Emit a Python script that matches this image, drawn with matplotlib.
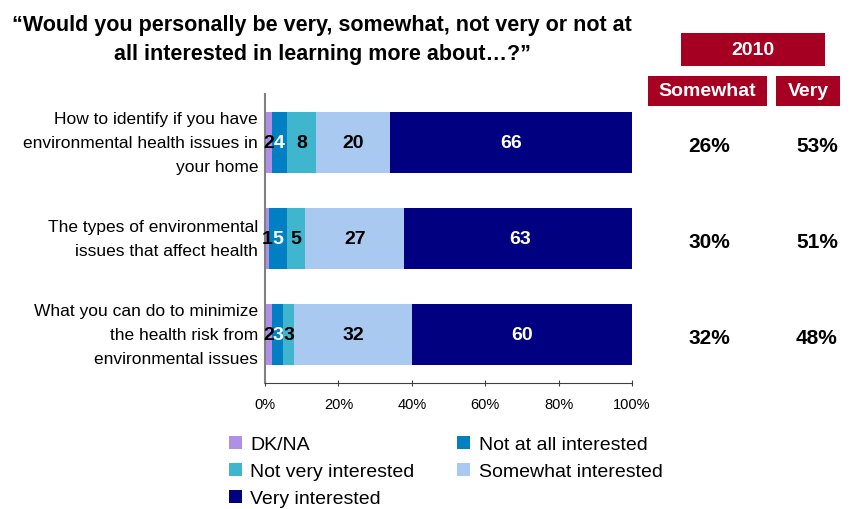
import matplotlib.pyplot as plt
from matplotlib.patches import Rectangle
from matplotlib.transforms import ScaledTranslation
import numpy as np

plt.rcParams['font.family'] = ['Liberation Sans', 'DejaVu Sans']

categories = [
    "How to identify if you have\nenvironmental health issues in\nyour home",
    "The types of environmental\nissues that affect health",
    "What you can do to minimize\nthe health risk from\nenvironmental issues",
]
series_names = ["DK/NA", "Not at all interested", "Not very interested",
                "Somewhat interested", "Very interested"]
dk_na = [2, 1, 2]
not_at_all = [4, 5, 3]
not_very = [8, 5, 3]
somewhat = [20, 27, 32]
very = [66, 63, 60]
colors = ["#B08FE6", "#0080C3", "#40B6CE", "#A9C9F0", "#000080"]
label_colors = ["black", "white", "black", "black", "white"]

somewhat_2010 = ["26%", "30%", "32%"]
very_2010 = ["53%", "51%", "48%"]

W, H = 850, 510
fig = plt.figure(figsize=(W / 100, H / 100), dpi=100)
ax = fig.add_axes([265 / W, 1 - 384 / H, (632 - 265) / W, (384 - 95) / H])

series = [dk_na, not_at_all, not_very, somewhat, very]
y = np.arange(len(categories))
left = np.zeros(len(categories))
for vals, col, lc, name in zip(series, colors, label_colors, series_names):
    vals = np.array(vals, dtype=float)
    bars = ax.barh(y, vals, left=left, height=0.63, color=col, label=name)
    for b, v in zip(bars, vals):
        ax.text(b.get_x() + b.get_width() / 2, b.get_y() + b.get_height() / 2,
                f"{int(v)}", ha="center", va="center", color=lc,
                fontsize=14, fontweight="bold")
    left += vals

ax.set_xlim(0, 100)
ax.set_ylim(2.5, -0.5)
ax.set_xticks([0, 20, 40, 60, 80, 100])
ax.set_xticklabels([f"{t}%" for t in [0, 20, 40, 60, 80, 100]], fontsize=10.5)
ax.set_yticks([])
ax.tick_params(axis="x", length=4, direction="inout", pad=8, color="#404040")
for s in ["top", "right"]:
    ax.spines[s].set_visible(False)
ax.spines["left"].set_color("#808080")
ax.spines["left"].set_linewidth(1.5)
ax.spines["bottom"].set_color("#404040")
ax.spines["bottom"].set_linewidth(0.8)

# Category labels, right-aligned against the axis
shift = ScaledTranslation(-7 / 100, 0, fig.dpi_scale_trans)
for i, cat in enumerate(categories):
    ax.text(0, i, cat, transform=ax.get_yaxis_transform() + shift,
            ha="right", va="center", fontsize=12.5, linespacing=1.75)

# Title, sized to span the width above the chart
title = fig.text(322 / W, 1 - 40 / H,
                 "\u201cWould you personally be very, somewhat, not very or not at\nall interested in learning more about\u2026?\u201d",
                 ha="center", va="center", fontsize=17, fontweight="bold",
                 linespacing=1.5)
renderer = fig.canvas.get_renderer()
for _ in range(3):
    w = title.get_window_extent(renderer).width
    title.set_fontsize(title.get_fontsize() * 622 / w)

# 2010 header boxes
red = "#A50021"
def header(x0, x1, y0, y1, text, size):
    fig.patches.append(Rectangle((x0 / W, 1 - y1 / H), (x1 - x0) / W, (y1 - y0) / H,
                                 transform=fig.transFigure, facecolor=red,
                                 edgecolor="none"))
    fig.text((x0 + x1) / 2 / W, 1 - (y0 + y1) / 2 / H, text, ha="center",
             va="center", color="white", fontsize=size, fontweight="bold")

header(681, 825, 34, 67, "2010", 14)
header(648, 767, 77, 107, "Somewhat", 14)
header(776, 840, 77, 107, "Very", 14)

for i, (s, v) in enumerate(zip(somewhat_2010, very_2010)):
    yy = ax.transData.transform((0, i))[1] / fig.dpi / (H / 100)
    fig.text(709 / W, yy - 3 / H, s, ha="center", va="center", fontsize=15, fontweight="bold")
    fig.text(817 / W, yy - 3 / H, v, ha="center", va="center", fontsize=15, fontweight="bold")

# Legend, filled row by row
handles, labels = ax.get_legend_handles_labels()
order = [0, 2, 4, 1, 3]
leg = fig.legend([handles[i] for i in order], [labels[i] for i in order],
                 loc="upper left", bbox_to_anchor=(229 / W, 1 - 437 / H),
                 ncol=2, frameon=False, fontsize=14, handlelength=0.65,
                 handleheight=0.65, handletextpad=0.45, columnspacing=2.2,
                 labelspacing=0.5, borderaxespad=0, borderpad=0)

fig.savefig("out.png", dpi=100)
